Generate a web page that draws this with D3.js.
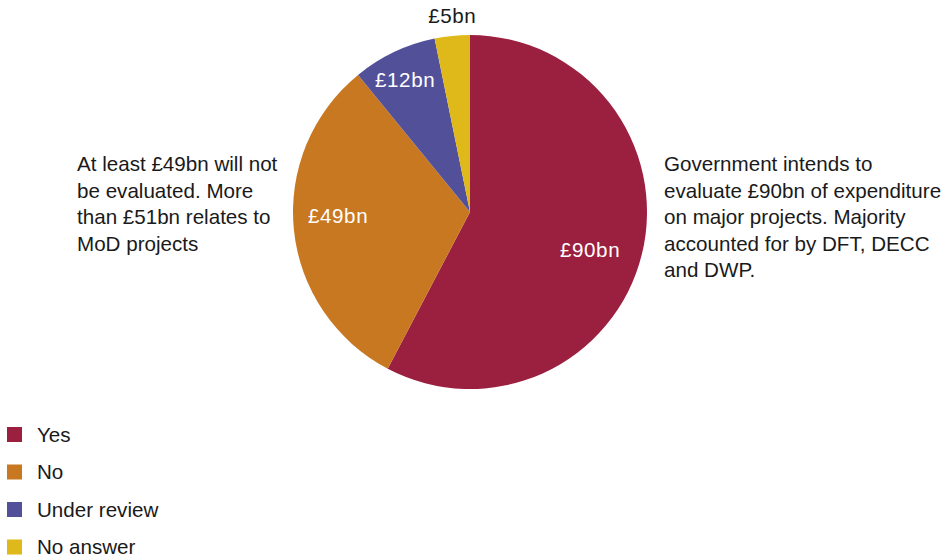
<!DOCTYPE html>
<html>
<head>
<meta charset="utf-8">
<script src="https://cdn.jsdelivr.net/npm/d3@7"></script>
<style>
  html, body { margin: 0; padding: 0; background: #fff; }
  svg { display: block; font-family: "Liberation Sans", Arial, sans-serif; }
</style>
</head>
<body>
<svg id="chart" width="944" height="558"></svg>
<script>
// Evaluation status of major-project expenditure (£bn)
const categories = ["Yes", "No", "Under review", "No answer"];
const values = [90, 49, 12, 5];
const valueLabels = ["£90bn", "£49bn", "£12bn", "£5bn"];
const colors = ["#9b1f3f", "#c87820", "#53509a", "#dfb919"];
const leftNote = ["At least £49bn will not", "be evaluated. More", "than £51bn relates to", "MoD projects"];
const rightNote = ["Government intends to", "evaluate £90bn of expenditure", "on major projects. Majority", "accounted for by DFT, DECC", "and DWP."];

const svg = d3.select("#chart");
const cx = 470, cy = 212, R = 177;
const fontSize = 20.6;

const data = categories.map((c, i) => ({ name: c, value: values[i], label: valueLabels[i], color: colors[i] }));

const pie = d3.pie().value(d => d.value).sort(null);
const arcs = pie(data);
const arc = d3.arc().innerRadius(0).outerRadius(R);

const g = svg.append("g").attr("transform", `translate(${cx},${cy})`);

g.selectAll("path.slice")
  .data(arcs)
  .join("path")
  .attr("class", "slice")
  .attr("d", arc)
  .attr("fill", d => d.data.color);

// Value labels: inside for large slices, outside for the smallest.
// Each label sits at its own radius, nudged a little around from the slice's mid-angle.
const labelRadius = [126, 132, 147, 197];
const labelNudgeDeg = [3.8, 4.1, -0.8, 0.6];
g.selectAll("text.val")
  .data(arcs)
  .join("text")
  .attr("class", "val")
  .attr("transform", (d, i) => {
    const a = (d.startAngle + d.endAngle) / 2 + labelNudgeDeg[i] * Math.PI / 180;
    const r = labelRadius[i];
    return `translate(${r * Math.sin(a)},${-r * Math.cos(a)})`;
  })
  .attr("text-anchor", "middle")
  .attr("dy", "0.35em")
  .attr("font-size", fontSize)
  .attr("letter-spacing", 0.6)
  .attr("fill", (d, i) => i === 3 ? "#1a1a1a" : "#ffffff")
  .text(d => d.data.label);

// Annotations
function note(lines, x, y0) {
  svg.append("g").selectAll("text")
    .data(lines)
    .join("text")
    .attr("x", x)
    .attr("y", (d, i) => y0 + i * 26.5)
    .attr("font-size", fontSize)
    .attr("fill", "#1a1a1a")
    .text(d => d);
}
note(leftNote, 77, 171);
note(rightNote, 664, 171);

// Legend
const legend = svg.append("g").selectAll("g")
  .data(data)
  .join("g")
  .attr("transform", (d, i) => `translate(7,${427 + i * 37.5})`);
legend.append("rect")
  .attr("width", 15).attr("height", 15)
  .attr("fill", d => d.color);
legend.append("text")
  .attr("x", 30).attr("y", 7.5).attr("dy", "0.35em")
  .attr("font-size", fontSize)
  .attr("fill", "#1a1a1a")
  .text(d => d.name);
</script>
</body>
</html>
